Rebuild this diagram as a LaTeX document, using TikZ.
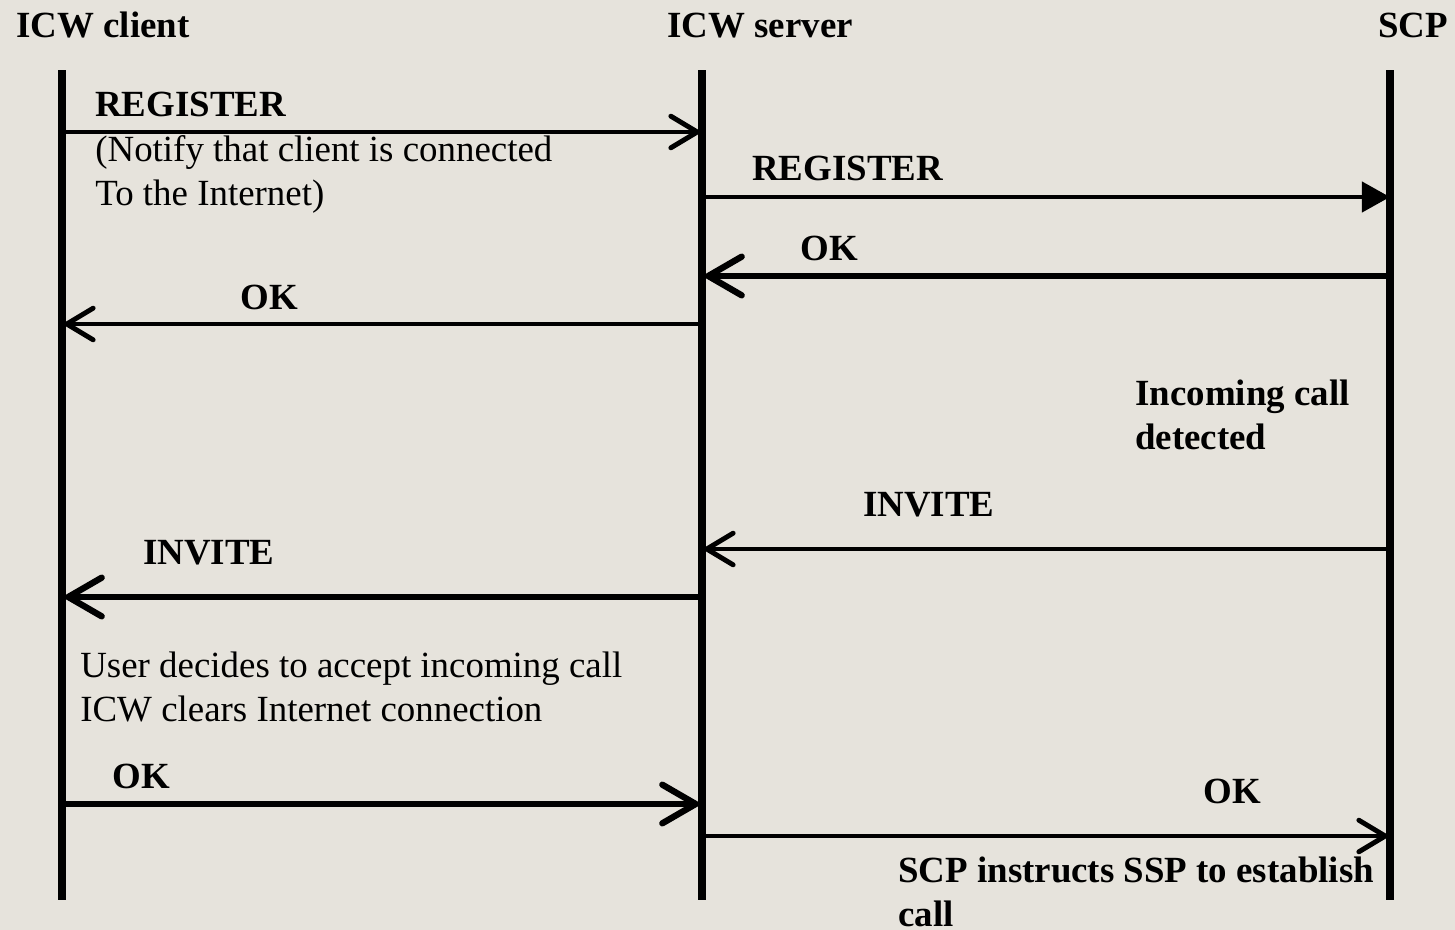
\documentclass[tikz,border=0pt]{standalone}
\usepackage{fontspec}
\setmainfont{Liberation Serif}
\usetikzlibrary{arrows.meta, positioning}
\definecolor{paper}{RGB}{230,227,220}
\tikzset{
    lifeline/.style={line width=4pt, black},
    msgarr/.style={line width=2.8pt, -{Straight Barb[length=15pt,width=18pt,line cap=round]}},
    bigarr/.style={line width=3.6pt, -{Straight Barb[length=19pt,width=22pt,line cap=round]}},
    fillarr/.style={line width=2.8pt, -{Triangle[length=16pt,width=17pt]}},
    msglabel/.style={inner sep=0pt, anchor=base west, font=\fontsize{21}{25}\selectfont\bfseries},
    notelabel/.style={inner sep=0pt, anchor=base west, align=left, font=\fontsize{21}{25}\selectfont},
}
\begin{document}
\begin{tikzpicture}[x=0.02cm, y=-0.02cm]
\useasboundingbox[fill=paper] (0,0) rectangle (1455,930);

% lifelines
\coordinate (client) at (62,0);
\coordinate (server) at (702,0);
\coordinate (scp) at (1390,0);
\node[msglabel] (clienthead) at (16,37) {ICW client};
\node[msglabel] (serverhead) at (667,37) {ICW server};
\node[msglabel] (scphead) at (1378,37) {SCP};
\draw[lifeline] (client |- 0,70) -- (client |- 0,900);
\draw[lifeline] (server |- 0,70) -- (server |- 0,900);
\draw[lifeline] (scp |- 0,70) -- (scp |- 0,900);

% registration (base of a two-line label = its last line)
\draw[msgarr] (client |- 0,132) -- (server |- 0,132);
\node[msglabel] (reg1) at (95,116) {REGISTER};
\node[notelabel] (regnote) at (95,205) {(Notify that client is connected\\To the Internet)};
\draw[fillarr] (server |- 0,197) -- (scp |- 0,197);
\node[msglabel] (reg2) at (752,180) {REGISTER};
\draw[bigarr] (scp |- 0,276) -- (server |- 0,276);
\node[msglabel] (ok1) at (800,260) {OK};
\draw[msgarr] (server |- 0,324) -- (client |- 0,324);
\node[msglabel] (ok2) at (240,309) {OK};

% incoming call
\node[msglabel, align=left] (detect) at (1135,449) {Incoming call\\detected};
\draw[msgarr] (scp |- 0,549) -- (server |- 0,549);
\node[msglabel] (inv1) at (863,516) {INVITE};
\draw[bigarr] (server |- 0,597) -- (client |- 0,597);
\node[msglabel] (inv2) at (143,564) {INVITE};
\node[notelabel] (usernote) at (80,721) {User decides to accept incoming call\\ICW clears Internet connection};

% answer
\draw[bigarr] (client |- 0,804) -- (server |- 0,804);
\node[msglabel] (ok3) at (112,788) {OK};
\draw[msgarr] (server |- 0,836) -- (scp |- 0,836);
\node[msglabel] (ok4) at (1203,803) {OK};
\node[msglabel, align=left] (instr) at (898,926) {SCP instructs SSP to establish\\call};
\end{tikzpicture}
\end{document}
